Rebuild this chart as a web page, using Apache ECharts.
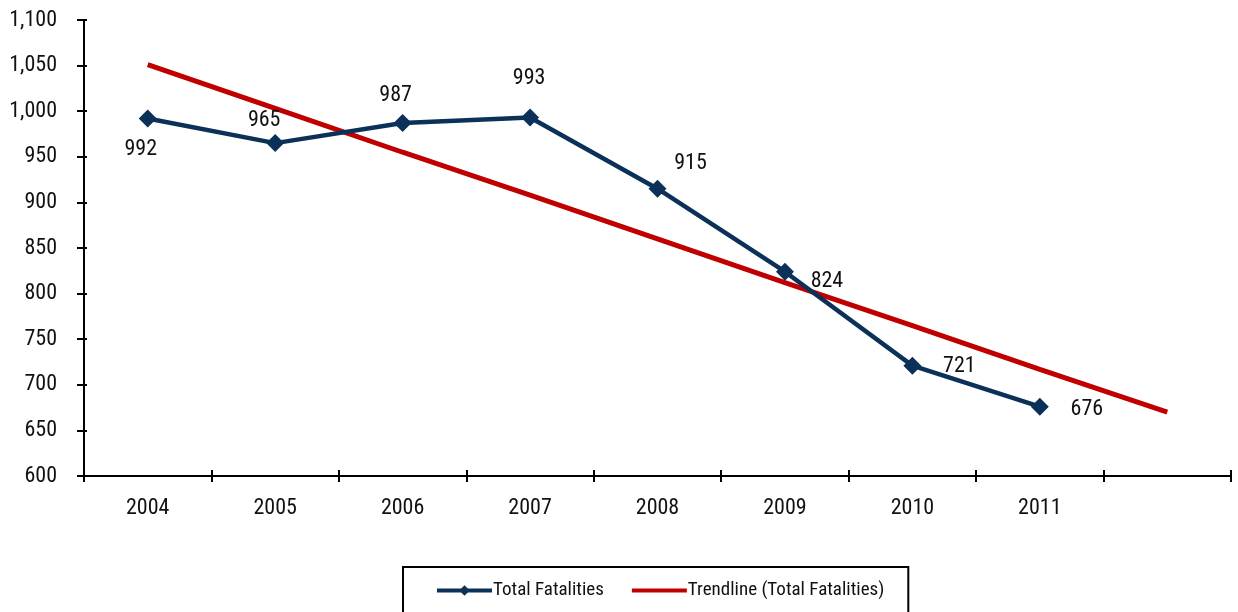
<!DOCTYPE html>
<html>
<head>
<meta charset="utf-8">
<script src="https://cdn.jsdelivr.net/npm/echarts@6/dist/echarts.min.js"></script>
<style>
html,body{margin:0;padding:0;background:#fff;}
#chart{width:1238px;height:612px;}
</style>
</head>
<body>
<div id="chart"></div>
<script>
var categories = ['2004','2005','2006','2007','2008','2009','2010','2011',''];
var totalFatalities = [992, 965, 987, 993, 915, 824, 721, 676];
var trendline = [1051, 1003, 955, 908, 860, 812, 765, 717, 670];
var yTicks = {min: 600, max: 1100, step: 50};

var labelOffsets = [[-7,31],[-11,-23],[-7,-28],[-1,-39],[33,-25],[42,10],[47,1],[47,3]];

var FONT = '"Liberation Sans Narrow","Arial Narrow","Roboto Condensed",sans-serif';
var NAVY = '#0B3159';
var RED = '#C00000';

var chart = echarts.init(document.getElementById('chart'), null, {renderer:'canvas'});

var fatalData = totalFatalities.map(function(v,i){
  return {value:v, label:{offset:labelOffsets[i]}};
});

var axisLineStyle = {color:'#000', width:2};

chart.setOption({
  animation:false,
  backgroundColor:'#fff',
  grid:{left:84, right:7, top:20, bottom:136, containLabel:false},
  legend:{
    left:403, top:567,
    padding:[14,24,40,32],
    borderColor:'#000', borderWidth:2,
    itemWidth:55, itemHeight:13, itemGap:26,
    lineStyle:{width:4},
    textStyle:{fontFamily:FONT, fontSize:19, color:'#111', padding:[0,0,0,-4]},
    data:[
      {name:'Total Fatalities', lineStyle:{width:4, color:NAVY}},
      {name:'Trendline (Total Fatalities)', itemStyle:{opacity:0}, lineStyle:{width:4, color:RED}}
    ]
  },
  xAxis:[{
    type:'category', data:categories, boundaryGap:true,
    axisLine:{onZero:false, lineStyle:axisLineStyle},
    axisTick:{show:true, interval:0, length:6, lineStyle:axisLineStyle},
    axisLabel:{interval:0, fontFamily:FONT, fontSize:22, color:'#111', margin:21},
    splitLine:{show:false}
  },{
    type:'category', data:categories, boundaryGap:true, position:'bottom',
    axisLine:{onZero:false, show:false},
    axisTick:{show:true, inside:true, interval:0, length:6, lineStyle:axisLineStyle},
    axisLabel:{show:false}, splitLine:{show:false}
  }],
  yAxis:[{
    type:'value', min:yTicks.min, max:yTicks.max, interval:yTicks.step,
    axisLine:{show:true, lineStyle:axisLineStyle},
    axisTick:{show:true, length:7, lineStyle:axisLineStyle},
    axisLabel:{fontFamily:FONT, fontSize:22, color:'#111', margin:27,
      formatter:function(v){return v.toLocaleString('en-US');}},
    splitLine:{show:false}
  },{
    type:'value', min:yTicks.min, max:yTicks.max, interval:yTicks.step, position:'left',
    axisLine:{show:false},
    axisTick:{show:true, inside:true, length:3, lineStyle:axisLineStyle},
    axisLabel:{show:false}, splitLine:{show:false}
  }],
  series:[{
    name:'Trendline (Total Fatalities)',
    type:'line', data:trendline, xAxisIndex:0, yAxisIndex:0,
    symbol:'none', lineStyle:{color:RED, width:5}, itemStyle:{color:RED},
    z:2
  },{
    name:'Total Fatalities',
    type:'line', data:fatalData, xAxisIndex:0, yAxisIndex:0,
    symbol:'diamond', symbolSize:18, showAllSymbol:true,
    lineStyle:{color:NAVY, width:4.5}, itemStyle:{color:NAVY},
    label:{show:true, position:'inside', fontFamily:FONT, fontSize:22, color:'#111'},
    z:3
  }]
});
</script>
</body>
</html>
